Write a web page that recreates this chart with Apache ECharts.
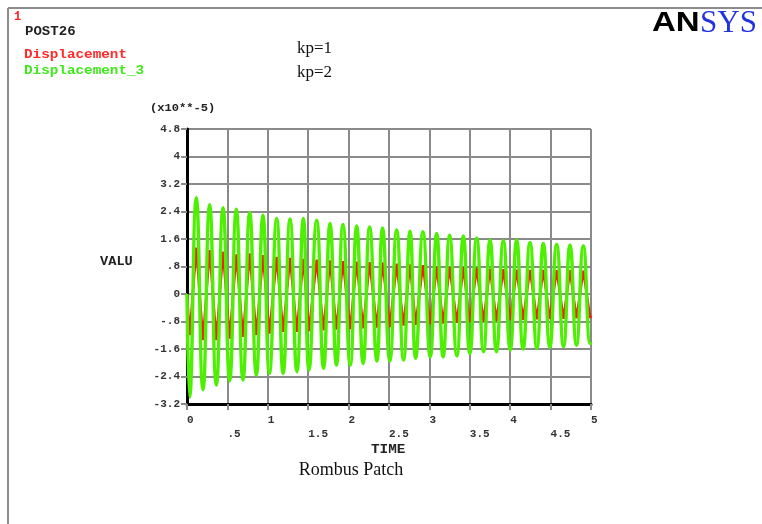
<!DOCTYPE html>
<html>
<head>
<meta charset="utf-8">
<script src="https://cdn.jsdelivr.net/npm/echarts@6/dist/echarts.min.js"></script>
<style>
html,body{margin:0;padding:0;background:#fff;}
#c{width:762px;height:524px;}
</style>
</head>
<body>
<div id="c"></div>
<script>
// ---- data (values in units of 1e-5) ----
const xTickLabels = ['0', '.5', '1', '1.5', '2', '2.5', '3', '3.5', '4', '4.5', '5'];
const yTickLabels = ['-3.2', '-2.4', '-1.6', '-.8', '0', '.8', '1.6', '2.4', '3.2', '4', '4.8'];
const seriesNames = ['Displacement', 'Displacement_3'];

// times of the extrema (s)
const times = [0, 0.033, 0.115, 0.198, 0.28, 0.363, 0.446, 0.528, 0.61, 0.693, 0.776, 0.858, 0.94, 1.02, 1.11, 1.19,
  1.275, 1.36, 1.44, 1.51, 1.605, 1.69, 1.77, 1.85, 1.93, 2.02, 2.10, 2.18, 2.26, 2.35, 2.42, 2.51,
  2.595, 2.68, 2.76, 2.83, 2.92, 3.01, 3.09, 3.17, 3.25, 3.34, 3.42, 3.50, 3.585, 3.67, 3.75, 3.83,
  3.915, 4.0, 4.08, 4.16, 4.245, 4.33, 4.41, 4.49, 4.575, 4.66, 4.74, 4.82, 4.905, 4.99, 5.0];

// Displacement (kp=1), red
const displacement = [0, -1.2, 1.35, -1.34, 1.28, -1.34, 1.23, -1.30, 1.15, -1.25, 1.18, -1.20, 1.13, -1.15, 1.08, -1.10,
  1.05, -1.10, 1.02, -1.08, 1.00, -1.06, 0.98, -1.04, 0.96, -1.02, 0.94, -1.00, 0.93, -0.98, 0.92, -0.96,
  0.88, -0.92, 0.86, -0.90, 0.84, -0.88, 0.80, -0.86, 0.79, -0.84, 0.78, -0.82, 0.76, -0.80, 0.74, -0.78,
  0.72, -0.76, 0.71, -0.75, 0.70, -0.74, 0.70, -0.73, 0.69, -0.72, 0.69, -0.71, 0.68, -0.70, -0.62];

// Displacement_3 (kp=2), green
const displacement3 = [0, -3.0, 2.80, -2.79, 2.60, -2.65, 2.51, -2.53, 2.47, -2.50, 2.37, -2.36, 2.29, -2.31, 2.20, -2.31,
  2.18, -2.26, 2.20, -2.21, 2.15, -2.16, 2.05, -2.07, 2.02, -2.07, 1.98, -2.02, 1.95, -1.95, 1.92, -1.95,
  1.86, -1.92, 1.83, -1.87, 1.81, -1.83, 1.76, -1.83, 1.71, -1.80, 1.69, -1.73, 1.63, -1.68, 1.57, -1.68,
  1.55, -1.63, 1.57, -1.60, 1.50, -1.58, 1.47, -1.55, 1.44, -1.53, 1.42, -1.49, 1.40, -1.44, -1.40];

const chart = echarts.init(document.getElementById('c'), null, {renderer: 'canvas'});
const mono = '"Liberation Mono", "DejaVu Sans Mono", monospace';
const serif = '"Liberation Serif", "DejaVu Serif", serif';
const gridCol = '#8a8a8a';

function txt(x, y, text, font, fill, extra) {
  return Object.assign({type: 'text', x: x, y: y, style: {text: text, font: font, fill: fill, align: 'left', verticalAlign: 'middle'}}, extra || {});
}

const option = {
  animation: false,
  backgroundColor: '#ffffff',
  grid: {left: 187, top: 129, width: 404, height: 275, containLabel: false},
  xAxis: {
    type: 'value', min: 0, max: 5, interval: 0.5,
    axisLine: {show: true, onZero: false, lineStyle: {color: '#000', width: 3}},
    axisTick: {show: true, length: 6, lineStyle: {color: gridCol, width: 2}},
    splitLine: {show: true, lineStyle: {color: gridCol, width: 2}},
    axisLabel: {
      margin: 9, align: 'left', fontFamily: mono, fontWeight: 'bold', fontSize: 11, color: '#333',
      lineHeight: 14,
      formatter: function (v) {
        const i = Math.round(v / 0.5);
        return i % 2 === 0 ? xTickLabels[i] : '\n' + xTickLabels[i];
      }
    }
  },
  yAxis: {
    type: 'value', min: -3.2, max: 4.8, interval: 0.8,
    axisLine: {show: true, onZero: false, lineStyle: {color: '#000', width: 3}},
    axisTick: {show: true, length: 6, lineStyle: {color: gridCol, width: 2}},
    splitLine: {show: true, lineStyle: {color: gridCol, width: 2}},
    axisLabel: {
      margin: 7, fontFamily: mono, fontWeight: 'bold', fontSize: 11, color: '#333',
      padding: [0, 0, 4, 0],
      formatter: function (v) { return yTickLabels[Math.round((v + 3.2) / 0.8)]; }
    }
  },
  series: [
    {
      name: seriesNames[0], type: 'line', symbol: 'none', smooth: false,
      lineStyle: {color: '#ff1a1a', width: 2.5}, z: 2,
      data: times.map((t, i) => [t, displacement[i]])
    },
    {
      name: seriesNames[1], type: 'line', symbol: 'none', smooth: 0.5,
      lineStyle: {color: '#4cf000', width: 3.4}, z: 3,
      data: times.map((t, i) => [t, displacement3[i]])
    }
  ],
  graphic: [
    {type: 'line', shape: {x1: 8, y1: 8, x2: 762, y2: 8}, style: {stroke: '#8c8c8c', lineWidth: 2}},
    {type: 'line', shape: {x1: 8, y1: 8, x2: 8, y2: 524}, style: {stroke: '#8c8c8c', lineWidth: 2}},
    txt(14, 17, '1', 'bold 12px ' + mono, '#ff2020'),
    txt(25, 31.5, 'POST26', 'bold 13px ' + mono, '#222', {scaleX: 1.08}),
    txt(24, 54.5, seriesNames[0], 'bold 13px ' + mono, '#ff2a2a', {scaleX: 1.1}),
    txt(24, 71, seriesNames[1], 'bold 13px ' + mono, '#3ee81a', {scaleX: 1.1}),
    txt(297, 49, 'kp=1', '17px ' + serif, '#111'),
    txt(297, 73, 'kp=2', '17px ' + serif, '#111'),
    txt(652, 23, 'AN', 'bold 28px "Liberation Sans", sans-serif', '#000', {scaleX: 1.18}),
    txt(700, 24, 'SYS', '31px ' + serif, '#2233e0'),
    txt(150, 108, '(x10**-5)', 'bold 11px ' + mono, '#222', {scaleX: 1.1}),
    txt(100, 262, 'VALU', 'bold 13px ' + mono, '#222', {scaleX: 1.05}),
    txt(371, 449.5, 'TIME', 'bold 13px ' + mono, '#222', {scaleX: 1.1}),
    {type: 'text', x: 351, y: 470.5, style: {text: 'Rombus Patch', fill: '#111', font: '18px ' + serif, align: 'center', verticalAlign: 'middle'}}
  ]
};
chart.setOption(option);
</script>
</body>
</html>
